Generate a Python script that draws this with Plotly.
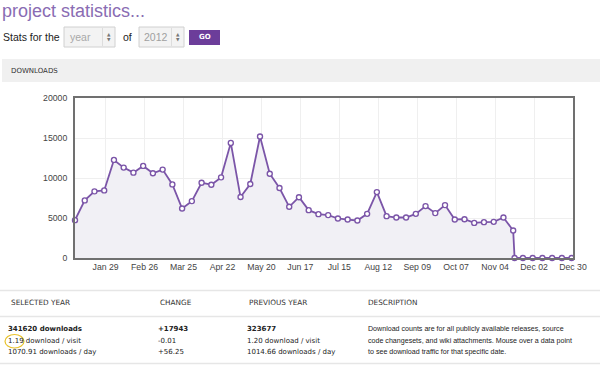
import plotly.graph_objects as go

# ---------------- data ----------------
week_dates = [
    "2012-01-07", "2012-01-14", "2012-01-21", "2012-01-28", "2012-02-04", "2012-02-11",
    "2012-02-18", "2012-02-25", "2012-03-03", "2012-03-10", "2012-03-17", "2012-03-24",
    "2012-03-31", "2012-04-07", "2012-04-14", "2012-04-21", "2012-04-28", "2012-05-05",
    "2012-05-12", "2012-05-19", "2012-05-26", "2012-06-02", "2012-06-09", "2012-06-16",
    "2012-06-23", "2012-06-30", "2012-07-07", "2012-07-14", "2012-07-21", "2012-07-28",
    "2012-08-04", "2012-08-11", "2012-08-18", "2012-08-25", "2012-09-01", "2012-09-08",
    "2012-09-15", "2012-09-22", "2012-09-29", "2012-10-06", "2012-10-13", "2012-10-20",
    "2012-10-27", "2012-11-03", "2012-11-10", "2012-11-17", "2012-11-18", "2012-11-24",
    "2012-12-01", "2012-12-08", "2012-12-15", "2012-12-22", "2012-12-29",
]
downloads = [
    4730, 7200, 8330, 8450, 12260, 11300, 10670, 11510, 10590, 11050,
    9200, 6190, 7110, 9410, 9160, 10080, 14390, 7620, 9250, 15190,
    10540, 8750, 6400, 7600, 5980, 5480, 5360, 4940, 4810, 4690,
    5520, 8240, 5230, 5060, 5060, 5520, 6490, 5610, 6610, 4810,
    4850, 4390, 4480, 4520, 5060, 3430, 0, 0, 0, 0, 0, 0, 0,
]
tick_dates = ["2012-01-29", "2012-02-26", "2012-03-25", "2012-04-22", "2012-05-20",
              "2012-06-17", "2012-07-15", "2012-08-12", "2012-09-09", "2012-10-07",
              "2012-11-04", "2012-12-02", "2012-12-30"]
tick_labels = ["Jan 29", "Feb 26", "Mar 25", "Apr 22", "May 20", "Jun 17", "Jul 15",
               "Aug 12", "Sep 09", "Oct 07", "Nov 04", "Dec 02", "Dec 30"]
y_ticks = [0, 5000, 10000, 15000, 20000]
y_tick_labels = ["0", "5000", "10000", "15000", "20000"]

table_headers = ["SELECTED YEAR", "CHANGE", "PREVIOUS YEAR", "DESCRIPTION"]
selected_year = ["341620 downloads", "1.19 download / visit", "1070.91 downloads / day"]
change = ["+17943", "-0.01", "+56.25"]
previous_year = ["323677", "1.20 download / visit", "1014.66 downloads / day"]
description = ["Download counts are for all publicly available releases, source",
               "code changesets, and wiki attachments. Mouse over a data point",
               "to see download traffic for that specific date."]

# ---------------- layout geometry ----------------
W, H = 600, 370
ML, MR, MT, MB = 75, 27, 98, 112
PW, PH = W - ML - MR, H - MT - MB


def px(x):
    return (x - ML) / PW


def py(y):
    return (H - MB - y) / PH


PURPLE = "#7b55a8"
fig = go.Figure()
fig.add_trace(go.Scatter(
    x=week_dates, y=downloads, mode="lines+markers",
    line=dict(color=PURPLE, width=1.8),
    marker=dict(size=5, color="white", line=dict(color=PURPLE, width=1.4)),
    fill="tozeroy", fillcolor="#f1f0f5", cliponaxis=False,
    hoverinfo="x+y",
))

shapes = []
annotations = []


def rect(x0, y0, x1, y1, fill, line_color=None, lw=0):
    shapes.append(dict(type="rect", xref="paper", yref="paper",
                       x0=px(x0), x1=px(x1), y0=py(y1), y1=py(y0),
                       fillcolor=fill, line=dict(color=line_color or fill, width=lw),
                       layer="below"))


def vline(x, y0, y1, color="#d8d8d8", w=1):
    shapes.append(dict(type="line", xref="paper", yref="paper",
                       x0=px(x), x1=px(x), y0=py(y0), y1=py(y1),
                       line=dict(color=color, width=w)))


def hline(y, x0=0, x1=600, color="#e2e2e2", w=1):
    shapes.append(dict(type="line", xref="paper", yref="paper",
                       x0=px(x0), x1=px(x1), y0=py(y), y1=py(y),
                       line=dict(color=color, width=w)))


def text(x, y, s, size, color="#333", family="DejaVu Sans", anchor="left"):
    annotations.append(dict(xref="paper", yref="paper", x=px(x), y=py(y), text=s,
                            showarrow=False, xanchor=anchor, yanchor="middle",
                            font=dict(size=size, color=color, family=family),
                            borderpad=0))


# title & controls
text(1, 11, "project statistics...", 18, "#8a6cb3", "Liberation Sans")
text(2, 37, "Stats for the", 10.5, "#222", "Liberation Sans")
rect(64, 27, 115, 47, "#f3f3f3", "#d0d0d0", 1)
vline(102.5, 28, 46, "#dddddd")
text(69, 37, "year", 10.5, "#a8a8a8", "Liberation Sans")
text(108.5, 34.5, "▲", 4.5, "#777", "DejaVu Sans", "center")
text(108.5, 39.5, "▼", 4.5, "#777", "DejaVu Sans", "center")
text(122, 37, "of", 10.5, "#222", "Liberation Sans")
rect(139, 27, 184, 47, "#f3f3f3", "#d0d0d0", 1)
vline(171.5, 28, 46, "#dddddd")
text(143, 37, "2012", 10.5, "#a0a0a0", "Liberation Sans")
text(177.5, 34.5, "▲", 4.5, "#777", "DejaVu Sans", "center")
text(177.5, 39.5, "▼", 4.5, "#777", "DejaVu Sans", "center")
rect(189, 30, 220, 45, "#6c3d9a")
text(204.5, 37.5, "<b>GO</b>", 7, "white", "DejaVu Sans", "center")

# downloads bar
rect(2, 59, 600, 82, "#f0f0f0")
text(10, 71, "DOWNLOADS", 7, "#333", "DejaVu Sans")

# table
hline(290.5, 0, 600, "#e6e6e6", 1.5)
hline(316.5, 0, 600, "#e6e6e6", 1.5)
hline(363.5, 0, 600, "#e6e6e6", 1.5)
col_x = [10, 159, 248, 367]
for cx, hdr in zip(col_x, table_headers):
    text(cx, 302.5, hdr, 7.3, "#333")
row_y = [328.5, 340.5, 352]
for i, (a, b, c, d) in enumerate(zip(selected_year, change, previous_year, description)):
    fmt = (lambda s: "<b>" + s + "</b>") if i == 0 else (lambda s: s)
    text(6.5, row_y[i], fmt(a), 7, "#222")
    text(156.5, row_y[i], fmt(b), 7, "#222")
    text(245.5, row_y[i], fmt(c), 7, "#222")
    text(366.5, row_y[i], d, 7.1, "#222", "Liberation Sans")

# yellow highlight circle
shapes.append(dict(type="circle", xref="paper", yref="paper",
                   x0=px(5), x1=px(24), y0=py(348), y1=py(334.5),
                   line=dict(color="#e9c229", width=1.2)))

fig.update_layout(
    width=W, height=H, margin=dict(l=ML, r=MR, t=MT, b=MB),
    paper_bgcolor="white", plot_bgcolor="white", showlegend=False,
    shapes=shapes, annotations=annotations,
    xaxis=dict(type="date", range=["2012-01-07", "2012-12-30"],
               tickvals=tick_dates, ticktext=tick_labels,
               showgrid=True, gridcolor="#efefef", gridwidth=1,
               showline=True, mirror=True, linecolor="#707070", linewidth=2,
               ticks="", zeroline=False,
               tickfont=dict(family="Liberation Sans", size=8.7, color="#444")),
    yaxis=dict(range=[0, 20000], tickvals=y_ticks, ticktext=y_tick_labels,
               showgrid=True, gridcolor="#efefef", gridwidth=1,
               showline=True, mirror=True, linecolor="#707070", linewidth=2,
               ticks="", zeroline=False, ticklabelstandoff=4,
               tickfont=dict(family="Liberation Sans", size=8.7, color="#444")),
)

fig.write_html("out.html", config={"displayModeBar": False},
               post_script="document.body.style.margin='0';")
